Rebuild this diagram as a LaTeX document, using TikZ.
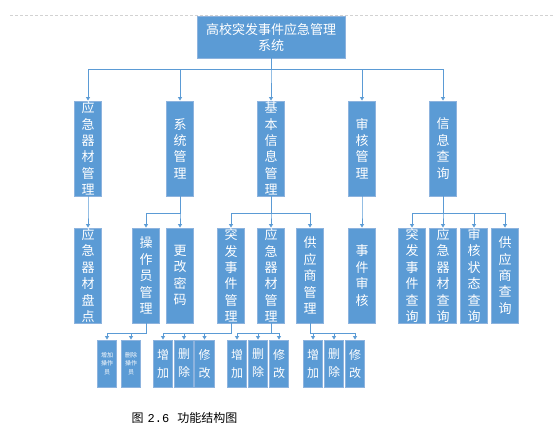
\documentclass[tikz,border=0pt]{standalone}
\usepackage{fontspec}
\newfontfamily\cjk{Noto Sans CJK SC}
\newfontfamily\monof{Liberation Mono}
\usetikzlibrary{arrows.meta}
\definecolor{boxfill}{HTML}{5B9BD5}
\definecolor{boxline}{HTML}{8DB3DE}
\definecolor{conncol}{HTML}{5B9BD5}
\tikzset{
  tall/.style={draw=boxline, line width=0.9pt, fill=boxfill, minimum width=27pt, minimum height=95pt, inner sep=0pt},
  short/.style={draw=boxline, line width=0.9pt, fill=boxfill, minimum width=19.5pt, minimum height=47pt, inner sep=0pt},
  topbox/.style={draw=boxline, line width=0.9pt, fill=boxfill, minimum width=148pt, minimum height=42pt, inner sep=0pt},
  vtxt/.style={text=white, align=center, inner sep=0pt, font=\cjk\fontsize{13}{16.4}\selectfont},
  stxt/.style={text=white, align=center, inner sep=0pt, font=\cjk\fontsize{12}{18}\selectfont},
  tinytxt/.style={text=white, align=center, inner sep=0pt, font=\cjk\fontsize{6}{8.5}\selectfont},
  conn/.style={draw=conncol, line width=0.9pt, -{Triangle[width=4pt,length=3.5pt]}},
}
\begin{document}
\begin{tikzpicture}[x=1pt,y=-1pt]
\useasboundingbox (0,0) rectangle (554,439);
\draw[gray!35, dashed, dash pattern=on 3pt off 2pt, line width=0.6pt] (10,15) -- (554,15);

% top
\node[topbox] (top) at (271,37) {};
\node[vtxt, font=\cjk\fontsize{13}{16}\selectfont] (topt) at (top) {高校突发事件应急管理\\系统};

% level 2
\node[tall] (a1) at (88,148.5) {};
\node[vtxt] (a1t) at (a1) {应\\急\\器\\材\\管\\理};
\node[tall] (a2) at (180,148.5) {};
\node[vtxt] (a2t) at (a2) {系\\统\\管\\理};
\node[tall] (a3) at (271,148.5) {};
\node[vtxt] (a3t) at (a3) {基\\本\\信\\息\\管\\理};
\node[tall] (a4) at (362,148.5) {};
\node[vtxt] (a4t) at (a4) {审\\核\\管\\理};
\node[tall] (a5) at (443,148.5) {};
\node[vtxt] (a5t) at (a5) {信\\息\\查\\询};

% level 3
\node[tall] (b1) at (88,275.5) {};
\node[vtxt] (b1t) at (b1) {应\\急\\器\\材\\盘\\点};
\node[tall] (b2) at (146,275.5) {};
\node[vtxt] (b2t) at (b2) {操\\作\\员\\管\\理};
\node[tall] (b3) at (180,275.5) {};
\node[vtxt] (b3t) at (b3) {更\\改\\密\\码};
\node[tall] (b4) at (231,275.5) {};
\node[vtxt] (b4t) at (b4) {突\\发\\事\\件\\管\\理};
\node[tall] (b5) at (271,275.5) {};
\node[vtxt] (b5t) at (b5) {应\\急\\器\\材\\管\\理};
\node[tall] (b6) at (310,275.5) {};
\node[vtxt] (b6t) at (b6) {供\\应\\商\\管\\理};
\node[tall] (b7) at (362,275.5) {};
\node[vtxt] (b7t) at (b7) {事\\件\\审\\核};
\node[tall] (b8) at (412,275.5) {};
\node[vtxt] (b8t) at (b8) {突\\发\\事\\件\\查\\询};
\node[tall] (b9) at (443,275.5) {};
\node[vtxt] (b9t) at (b9) {应\\急\\器\\材\\查\\询};
\node[tall] (b10) at (474,275.5) {};
\node[vtxt] (b10t) at (b10) {审\\核\\状\\态\\查\\询};
\node[tall] (b11) at (505,275.5) {};
\node[vtxt] (b11t) at (b11) {供\\应\\商\\查\\询};

% level 4
\node[short] (c1) at (107,363.5) {};
\node[tinytxt] (c1t) at (c1) {增加\\操作\\员};
\node[short] (c2) at (131,363.5) {};
\node[tinytxt] (c2t) at (c2) {删除\\操作\\员};
\node[short] (c3) at (163,363.5) {};
\node[stxt] (c3t) at (c3) {增\\加};
\node[short] (c4) at (184,363.5) {};
\node[stxt] (c4t) at (c4) {删\\除};
\node[short] (c5) at (204.5,363.5) {};
\node[stxt] (c5t) at (c5) {修\\改};
\node[short] (c6) at (237,363.5) {};
\node[stxt] (c6t) at (c6) {增\\加};
\node[short] (c7) at (258,363.5) {};
\node[stxt] (c7t) at (c7) {删\\除};
\node[short] (c8) at (279,363.5) {};
\node[stxt] (c8t) at (c8) {修\\改};
\node[short] (c9) at (313,363.5) {};
\node[stxt] (c9t) at (c9) {增\\加};
\node[short] (c10) at (334,363.5) {};
\node[stxt] (c10t) at (c10) {删\\除};
\node[short] (c11) at (355,363.5) {};
\node[stxt] (c11t) at (c11) {修\\改};

% connectors
\foreach \c in {a1,a2,a3,a4,a5}
  \draw[conn] (top.south) -- ++(0,11) -| (\c.north);
\draw[conn] (a1.south) -- ++(0,17) -| (b1.north);
\foreach \c in {b2,b3}
  \draw[conn] (a2.south) -- ++(0,17) -| (\c.north);
\foreach \c in {b4,b5,b6}
  \draw[conn] (a3.south) -- ++(0,17) -| (\c.north);
\draw[conn] (a4.south) -- ++(0,17) -| (b7.north);
\foreach \c in {b8,b9,b10,b11}
  \draw[conn] (a5.south) -- ++(0,17) -| (\c.north);
\foreach \c in {c1,c2}
  \draw[conn] (b2.south) -- ++(0,10) -| (\c.north);
\foreach \c in {c3,c4,c5}
  \draw[conn] (b4.south) -- ++(0,10) -| (\c.north);
\foreach \c in {c6,c7,c8}
  \draw[conn] (b5.south) -- ++(0,10) -| (\c.north);
\foreach \c in {c9,c10,c11}
  \draw[conn] (b6.south) -- ++(0,10) -| (\c.north);

% caption
\node[font=\cjk\fontsize{12}{14}\selectfont, inner sep=0pt] (cap) at (184.5,418) {图\hspace{4pt}{\monof 2.6}\hspace{8pt}功能结构图};
\end{tikzpicture}
\end{document}
